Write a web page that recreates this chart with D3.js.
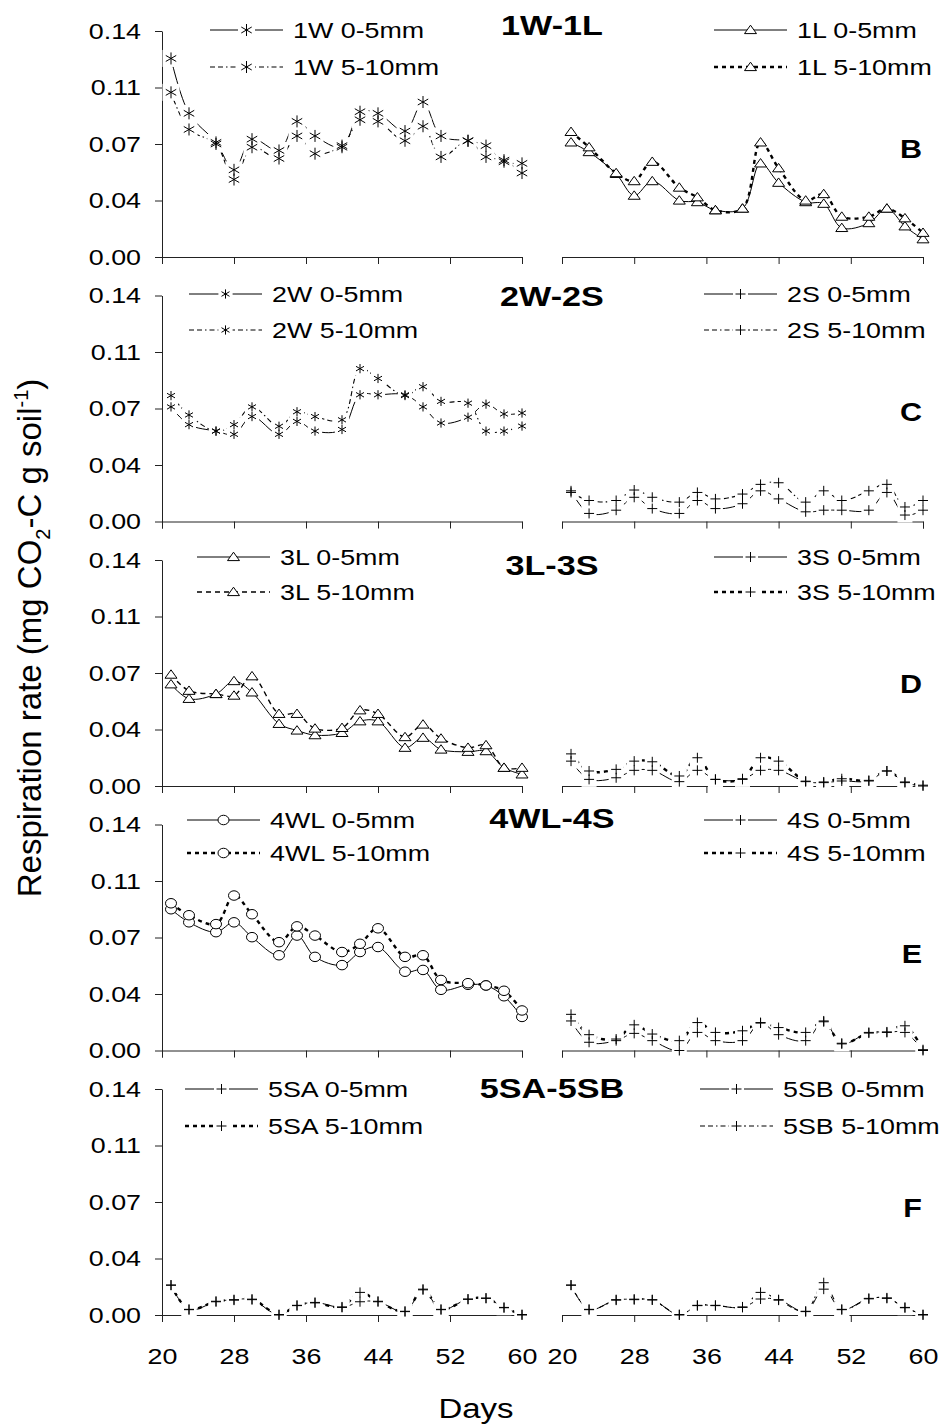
<!DOCTYPE html>
<html>
<head>
<meta charset="utf-8">
<script src="https://cdn.jsdelivr.net/npm/d3@7.9.0/dist/d3.min.js"></script>
<style>
  body { margin: 0; background: #fff; }
  svg { display: block; }
  text { font-family: "Liberation Sans", Arial, sans-serif; fill: #000; }
</style>
</head>
<body>
<svg id="chart" width="944" height="1428"></svg>
<script>
// sampling days (same for every series)
const days = [21, 23, 26, 28, 30, 33, 35, 37, 40, 42, 44, 47, 49, 51, 54, 56, 58, 60];
const xTicks = [20, 28, 36, 44, 52, 60];
const yTicks = [0, 0.035, 0.07, 0.105, 0.14];
const yTickLabels = ['0.00', '0.04', '0.07', '0.11', '0.14'];

// respiration rates, 0-5mm and 5-10mm layers
const w1_0_5  = [0.123, 0.089, 0.071, 0.054, 0.073, 0.066, 0.084, 0.075, 0.068, 0.090, 0.089, 0.078, 0.096, 0.075, 0.072, 0.069, 0.059, 0.058];
const w1_5_10 = [0.102, 0.079, 0.070, 0.048, 0.068, 0.061, 0.075, 0.064, 0.069, 0.085, 0.084, 0.072, 0.081, 0.062, 0.072, 0.062, 0.060, 0.052];
const l1_0_5  = [0.071, 0.065, 0.0515, 0.038, 0.047, 0.035, 0.034, 0.029, 0.030, 0.058, 0.046, 0.034, 0.033, 0.018, 0.021, 0.030, 0.019, 0.011];
const l1_5_10 = [0.0775, 0.068, 0.052, 0.047, 0.059, 0.043, 0.037, 0.029, 0.030, 0.071, 0.055, 0.035, 0.039, 0.025, 0.025, 0.030, 0.024, 0.015];

const w2_0_5  = [0.071, 0.060, 0.056, 0.054, 0.065, 0.054, 0.062, 0.056, 0.057, 0.0785, 0.0785, 0.0785, 0.071, 0.061, 0.0646, 0.0727, 0.0666, 0.0672];
const w2_5_10 = [0.078, 0.066, 0.056, 0.060, 0.071, 0.059, 0.068, 0.065, 0.063, 0.0947, 0.0886, 0.078, 0.0835, 0.0744, 0.0733, 0.056, 0.056, 0.0591];
const s2_0_5  = [0.019, 0.005, 0.007, 0.015, 0.008, 0.005, 0.013, 0.008, 0.011, 0.019, 0.014, 0.006, 0.007, 0.007, 0.007, 0.018, 0.004, 0.007];
const s2_5_10 = [0.018, 0.013, 0.013, 0.0195, 0.015, 0.012, 0.018, 0.014, 0.017, 0.023, 0.024, 0.012, 0.019, 0.013, 0.019, 0.023, 0.009, 0.013];

const l3_0_5  = [0.063, 0.054, 0.057, 0.065, 0.058, 0.0385, 0.0344, 0.0315, 0.0329, 0.0401, 0.0401, 0.0237, 0.0299, 0.0226, 0.0212, 0.0216, 0.0113, 0.0072];
const l3_5_10 = [0.069, 0.059, 0.057, 0.056, 0.068, 0.0447, 0.0447, 0.0356, 0.036, 0.0469, 0.0447, 0.0303, 0.0381, 0.0294, 0.0237, 0.0253, 0.0113, 0.0113];
const s3_0_5  = [0.0154, 0.0041, 0.0051, 0.0097, 0.0097, 0.0027, 0.0097, 0.0041, 0.0041, 0.0097, 0.0097, 0.0027, 0.0021, 0.0031, 0.0031, 0.0093, 0.0021, 0.0];
const s3_5_10 = [0.0199, 0.0093, 0.0103, 0.0154, 0.015, 0.0062, 0.0175, 0.0041, 0.0045, 0.0175, 0.0154, 0.003, 0.0025, 0.0045, 0.0035, 0.0093, 0.0025, 0.0005];

const wl4_0_5  = [0.0875, 0.0794, 0.0733, 0.0794, 0.0702, 0.059, 0.0712, 0.058, 0.0529, 0.061, 0.0641, 0.0488, 0.0499, 0.0376, 0.0407, 0.0403, 0.0336, 0.0208];
const wl4_5_10 = [0.0912, 0.0838, 0.0783, 0.096, 0.0844, 0.0671, 0.0769, 0.0712, 0.061, 0.0661, 0.0757, 0.058, 0.059, 0.0437, 0.0417, 0.0403, 0.037, 0.0248];
const s4_0_5   = [0.0183, 0.0051, 0.0061, 0.0106, 0.0061, 0.0, 0.0112, 0.0061, 0.0061, 0.017, 0.0098, 0.0061, 0.0183, 0.0041, 0.0112, 0.0112, 0.0112, 0.0];
const s4_5_10  = [0.0224, 0.0098, 0.0071, 0.0159, 0.0102, 0.0061, 0.0173, 0.0112, 0.0122, 0.0173, 0.0142, 0.0112, 0.0178, 0.0045, 0.0108, 0.0115, 0.0153, 0.0005];

const sa5_0_5  = [0.0185, 0.0033, 0.0082, 0.0095, 0.0095, 0.0, 0.0058, 0.0078, 0.0047, 0.0082, 0.0082, 0.0021, 0.0156, 0.0033, 0.0099, 0.0103, 0.0047, 0.0];
const sa5_5_10 = [0.0185, 0.0035, 0.0085, 0.0092, 0.0098, 0.0003, 0.006, 0.0075, 0.005, 0.014, 0.0085, 0.0023, 0.016, 0.0035, 0.0097, 0.0105, 0.0045, 0.0003];
const sb5_0_5  = [0.0185, 0.0033, 0.0095, 0.0095, 0.0095, 0.0, 0.0058, 0.0058, 0.0047, 0.0099, 0.0095, 0.0021, 0.016, 0.0033, 0.0103, 0.0103, 0.0047, 0.0];
const sb5_5_10 = [0.0185, 0.0035, 0.0092, 0.0098, 0.0093, 0.0003, 0.006, 0.006, 0.005, 0.014, 0.0092, 0.0023, 0.02, 0.0035, 0.01, 0.0106, 0.0045, 0.0003];

const panels = [
  { title: '1W-1L', letter: 'B',
    left:  { name: '1W', sym: 'asterisk', r: 6, a: w1_0_5, b: w1_5_10, dash: 'thin' },
    right: { name: '1L', sym: 'triangle', r: 6, a: l1_0_5, b: l1_5_10, dash: 'thick' } },
  { title: '2W-2S', letter: 'C',
    left:  { name: '2W', sym: 'asterisk', r: 4.6, a: w2_0_5, b: w2_5_10, dash: 'thin' },
    right: { name: '2S', sym: 'plus', r: 5, a: s2_0_5, b: s2_5_10, dash: 'thin' } },
  { title: '3L-3S', letter: 'D',
    left:  { name: '3L', sym: 'triangle', r: 6, a: l3_0_5, b: l3_5_10, dash: 'medium' },
    right: { name: '3S', sym: 'plus', r: 5, a: s3_0_5, b: s3_5_10, dash: 'thick' } },
  { title: '4WL-4S', letter: 'E',
    left:  { name: '4WL', sym: 'circle', r: 5, a: wl4_0_5, b: wl4_5_10, dash: 'thick' },
    right: { name: '4S', sym: 'plus', r: 5, a: s4_0_5, b: s4_5_10, dash: 'thick' } },
  { title: '5SA-5SB', letter: 'F',
    left:  { name: '5SA', sym: 'plus', r: 5, a: sa5_0_5, b: sa5_5_10, dash: 'thick' },
    right: { name: '5SB', sym: 'plus', r: 5, a: sb5_0_5, b: sb5_5_10, dash: 'thin' } }
];

// layout
const panelH = 226;
const panelTop = i => 31 + i * 264.5;
const titleY = [35, 306, 575, 828, 1098];
const letterY = [158, 421, 693, 963, 1217];
const legLeftX = [293, 272, 280, 270, 268];
const legRightX = [797, 787, 797, 787, 783];
const legY = [[30, 67], [294, 330], [557, 592], [820, 853], [1089, 1126]];
const dashes = {
  thin:   { w: 1.1, d: '5,3,5,3,1.5,3' },
  medium: { w: 1.4, d: '5,4' },
  thick:  { w: 2.4, d: '4,4' }
};
const STRETCH = 1.22;

const svg = d3.select('#chart');
const xL = d3.scaleLinear().domain([20, 60]).range([162, 522]);
const xR = d3.scaleLinear().domain([20, 60]).range([562, 923]);

function symbolPath(sym, r) {
  if (sym === 'asterisk') {
    const c = r * 0.87, s = r * 0.5;
    return `M0,${-r}V${r}M${-c},${-s}L${c},${s}M${-c},${s}L${c},${-s}`;
  }
  if (sym === 'plus') return `M${-r},0H${r}M0,${-r}V${r}`;
  if (sym === 'triangle') return `M${-r},${r * 0.6}L0,${-r * 0.8}L${r},${r * 0.6}Z`;
  // circle (slightly wide, like the original)
  const rx = r * 1.1, ry = r * 0.95;
  return `M${-rx},0A${rx},${ry} 0 1,0 ${rx},0A${rx},${ry} 0 1,0 ${-rx},0Z`;
}

function drawMarkers(g, pts, s) {
  // white backing first so lines and axis break at the markers
  if (s.sym === 'plus' || s.sym === 'asterisk') {
    const h = s.r + 2.5;
    g.selectAll(null).data(pts).enter().append('rect')
      .attr('x', d => d.px - h).attr('y', d => d.py - h)
      .attr('width', h * 2).attr('height', h * 2)
      .attr('fill', '#fff');
  }
}

function drawGlyphs(g, pts, s) {
  const filled = s.sym === 'triangle' || s.sym === 'circle';
  g.selectAll(null).data(pts).enter().append('path')
    .attr('transform', d => `translate(${d.px},${d.py})`)
    .attr('d', symbolPath(s.sym, s.r))
    .attr('fill', filled ? '#fff' : 'none')
    .attr('stroke', '#000')
    .attr('stroke-width', 1);
}

function drawSide(i, side, x, y, legX) {
  const s = panels[i][side];
  const g = svg.append('g');
  const line = d3.line()
    .x(d => x(d[0])).y(d => y(d[1]))
    .curve(d3.curveCatmullRom.alpha(0.5));
  const dz = dashes[s.dash];
  const ptsA = days.map((d, k) => ({ px: x(d), py: y(s.a[k]) }));
  const ptsB = days.map((d, k) => ({ px: x(d), py: y(s.b[k]) }));

  g.append('path').attr('d', line(days.map((d, k) => [d, s.a[k]])))
    .attr('fill', 'none').attr('stroke', '#000').attr('stroke-width', 1);
  g.append('path').attr('d', line(days.map((d, k) => [d, s.b[k]])))
    .attr('fill', 'none').attr('stroke', '#000')
    .attr('stroke-width', dz.w).attr('stroke-dasharray', dz.d);

  drawMarkers(g, ptsA, s);
  drawMarkers(g, ptsB, s);
  drawGlyphs(g, ptsA, s);
  drawGlyphs(g, ptsB, s);

  // legend
  const lg = svg.append('g');
  const rows = [['0-5mm', null], ['5-10mm', dz]];
  rows.forEach((row, k) => {
    const cy = legY[i][k];
    const x1 = legX - 83, x2 = legX - 10, mx = (x1 + x2) / 2;
    lg.append('line').attr('x1', x1).attr('x2', x2).attr('y1', cy).attr('y2', cy)
      .attr('stroke', '#000')
      .attr('stroke-width', row[1] ? row[1].w : 1)
      .attr('stroke-dasharray', row[1] ? row[1].d : null);
    const p = [{ px: mx, py: cy }];
    drawMarkers(lg, p, s);
    drawGlyphs(lg, p, s);
    lg.append('text').attr('class', 'w')
      .attr('x', legX).attr('y', cy + 8)
      .attr('font-size', 22)
      .text(`${s.name} ${row[0]}`);
  });
}

panels.forEach((p, i) => {
  const top = panelTop(i);
  const y = d3.scaleLinear().domain([0, 0.14]).range([top + panelH, top]);
  const last = i === panels.length - 1;

  // axes
  const yAxis = d3.axisLeft(y).tickValues(yTicks)
    .tickFormat((d, k) => yTickLabels[k])
    .tickSize(7).tickSizeOuter(0).tickPadding(14);
  svg.append('g').attr('class', 'ax').attr('transform', 'translate(162,0)').call(yAxis);

  [xL, xR].forEach(x => {
    const xAxis = d3.axisBottom(x).tickValues(xTicks)
      .tickSize(7).tickSizeOuter(7).tickPadding(26)
      .tickFormat(last ? d3.format('d') : () => '');
    svg.append('g').attr('class', 'ax')
      .attr('transform', `translate(0,${top + panelH})`).call(xAxis);
  });

  drawSide(i, 'left', xL, y, legLeftX[i]);
  drawSide(i, 'right', xR, y, legRightX[i]);

  svg.append('text').attr('class', 'w')
    .attr('x', 552).attr('y', titleY[i])
    .attr('text-anchor', 'middle')
    .attr('font-size', 28).attr('font-weight', 'bold')
    .text(p.title);
  svg.append('text').attr('class', 'w')
    .attr('x', 922).attr('y', letterY[i])
    .attr('text-anchor', 'end')
    .attr('font-size', 25).attr('font-weight', 'bold')
    .text(p.letter);
});

svg.selectAll('g.ax')
  .attr('font-family', null).attr('font-size', null);
svg.selectAll('g.ax path, g.ax line').attr('stroke', '#222');
svg.selectAll('g.ax text').attr('class', 'w').attr('font-size', 22).attr('fill', '#000');

// axis titles
svg.append('text').attr('class', 'w')
  .attr('x', 476).attr('y', 1418)
  .attr('text-anchor', 'middle').attr('font-size', 27)
  .text('Days');

const yt = svg.append('text')
  .attr('transform', 'translate(41,638) rotate(-90)')
  .attr('text-anchor', 'middle').attr('font-size', 33);
yt.append('tspan').text('Respiration rate (mg CO');
yt.append('tspan').attr('dy', 9).attr('font-size', 20).text('2');
yt.append('tspan').attr('dy', -9).text('-C g soil');
yt.append('tspan').attr('dy', -13).attr('font-size', 20).text('-1');
yt.append('tspan').attr('dy', 13).text(')');

// widen horizontal text like the original figure
svg.selectAll('text.w').each(function () {
  const n = this.getComputedTextLength();
  d3.select(this).attr('textLength', n * STRETCH).attr('lengthAdjust', 'spacingAndGlyphs');
});
</script>
</body>
</html>
